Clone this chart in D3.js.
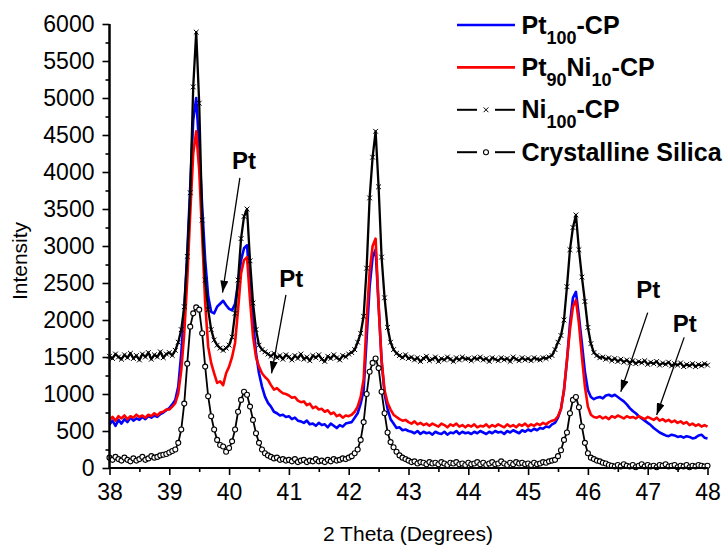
<!DOCTYPE html>
<html>
<head>
<meta charset="utf-8">
<script src="https://cdn.jsdelivr.net/npm/d3@7"></script>
<style>
  html, body { margin: 0; padding: 0; background: #fff; }
  svg { display: block; }
  text { font-family: "Liberation Sans", Arial, sans-serif; fill: #000; }
</style>
</head>
<body>
<svg id="chart" width="725" height="549"></svg>
<script>
// ---- data ----
const thetaStart = 38, thetaStep = 0.05;   // 2θ sampling grid (degrees)
const xTicks = [38, 39, 40, 41, 42, 43, 44, 45, 46, 47, 48];
const yTicks = [0, 500, 1000, 1500, 2000, 2500, 3000, 3500, 4000, 4500, 5000, 5500, 6000];

const seriesNames = ["Pt100-CP", "Pt90Ni10-CP", "Ni100-CP", "Crystalline Silica"];

const pt100 = [
 590,640,570,650,600,660,620,680,640,670, 650,690,660,700,680,710,690,730,750,780,
 810,860,920,1100,1550,2140,2900,3800,4700,5000, 4340,3530,2810,2320,2110,2090,2180,2220,2260,2200,
 2150,2130,2220,2500,2810,2970,3010,2450,2000,1550, 1280,1100,965,880,830,760,740,710,720,690,
 700,660,680,640,630,610,640,590,600,570, 610,580,590,550,600,570,540,580,560,600,
 610,620,680,740,870,1050,1750,2450,2850,2950, 2200,1450,1000,800,660,600,540,550,510,520,
 500,490,470,500,460,490,470,480,450,490, 470,460,490,450,480,470,500,460,490,470,
 480,460,490,470,500,480,460,490,470,500, 480,490,460,500,480,510,490,470,510,490,
 520,500,530,510,540,530,560,550,590,610, 680,800,1050,1450,1950,2300,2380,2050,1680,1300,
 1050,960,930,950,960,940,980,990,970,990, 960,930,900,860,810,770,740,700,670,640,
 610,580,540,510,480,460,440,430,450,440, 420,430,410,430,420,400,410,440,450,410,
 400];

const pt90ni10 = [
 650,690,640,700,670,710,660,700,680,720, 690,710,680,720,700,740,710,750,760,790,
 790,830,875,1010,1320,1820,2540,3440,4250,4550, 4030,3130,2230,1640,1420,1280,1150,1170,1120,1280,
 1370,1500,1690,2140,2630,2810,2850,2270,1780,1500, 1370,1280,1230,1190,1120,1060,1080,1040,1010,1000,
 980,950,960,910,890,900,850,870,810,830, 790,800,760,780,730,750,700,720,680,710,
 700,720,760,830,960,1200,2000,2650,3000,3100, 2200,1450,1050,880,790,720,690,660,640,650,
 620,600,630,590,610,580,600,570,600,580, 560,600,580,550,590,570,600,560,580,550,
 580,560,590,550,570,560,590,550,580,560, 590,570,550,590,560,580,550,590,570,600,
 560,590,570,600,580,610,590,620,640,650, 700,800,1050,1460,1870,2180,2270,1950,1500,1100,
 830,720,690,680,700,670,690,660,700,680, 710,690,670,700,680,690,670,700,680,660,
 690,670,650,680,640,660,630,650,620,640, 610,630,600,620,580,600,570,590,560,580,
 560];

const ni100 = [
 1510,1480,1540,1500,1470,1530,1490,1550,1480,1520, 1460,1540,1500,1560,1470,1530,1500,1570,1490,1540,
 1560,1520,1590,1700,1870,2180,2860,3720,5150,5890, 4930,3350,2540,2140,1870,1730,1660,1620,1590,1620,
 1660,1770,2090,2540,3100,3400,3500,2800,2230,1870, 1660,1600,1570,1540,1510,1550,1490,1520,1470,1530,
 1500,1460,1520,1480,1540,1470,1500,1450,1520,1490, 1530,1470,1440,1510,1480,1530,1490,1460,1520,1500,
 1540,1560,1600,1700,1820,2050,2700,3650,4200,4550, 3800,2850,2300,1900,1700,1600,1550,1520,1490,1530,
 1480,1500,1460,1490,1440,1480,1510,1450,1470,1500, 1440,1480,1460,1500,1470,1440,1490,1460,1500,1470,
 1480,1450,1490,1470,1500,1460,1480,1440,1490,1470, 1450,1490,1460,1480,1440,1500,1470,1450,1490,1460,
 1480,1450,1490,1470,1460,1490,1480,1500,1520,1600, 1700,1790,2000,2450,2950,3250,3420,2950,2580,2250,
 1900,1680,1560,1520,1490,1500,1470,1490,1450,1480, 1440,1470,1430,1460,1420,1450,1410,1440,1420,1450,
 1400,1430,1410,1440,1390,1420,1400,1430,1380,1410, 1390,1420,1370,1400,1380,1410,1370,1400,1380,1410,
 1390];

const silica = [
 140,110,150,120,100,140,110,90,130,100, 120,150,110,130,160,140,150,170,180,190,
 210,230,250,340,520,870,1410,1910,2090,2170, 2140,1820,1370,970,700,520,380,310,290,220,
 270,360,520,760,920,1030,990,830,650,470, 340,250,200,170,150,130,140,110,120,100,
 110,90,120,80,100,110,80,100,90,120, 90,100,80,110,90,120,100,110,130,120,
 140,160,200,250,380,620,1000,1300,1420,1480, 1350,1030,740,480,350,280,220,170,140,120,
 100,80,90,60,80,70,50,80,60,70, 50,80,60,40,70,60,80,50,60,40,
 70,50,60,80,50,70,40,60,80,50, 60,90,60,40,70,50,80,60,70,50,
 60,40,70,50,60,80,70,90,100,110, 160,240,380,480,740,920,960,820,560,340,
 200,140,120,100,90,70,60,40,30,20, 40,20,50,30,20,40,10,30,50,20,
 40,20,30,10,40,30,50,20,30,40, 10,30,20,40,10,30,20,40,30,20,
 30];

// annotations: label position (data units) and arrow from -> to (data units)
const annotations = [
  { text: "Pt", lx: 40.25, ly: 4040, x1: 40.18, y1: 3920, x2: 39.89, y2: 2370 },
  { text: "Pt", lx: 41.04, ly: 2450, x1: 40.95, y1: 2340, x2: 40.71, y2: 1280 },
  { text: "Pt", lx: 47.01, ly: 2300, x1: 47.00, y1: 2100, x2: 46.55, y2: 1030 },
  { text: "Pt", lx: 47.62, ly: 1840, x1: 47.61, y1: 1765, x2: 47.15, y2: 715 }
];

// ---- drawing ----
const svg = d3.select("#chart");
const x = d3.scaleLinear().domain([38, 48]).range([109.5, 707.5]);
const y = d3.scaleLinear().domain([0, 6000]).range([468, 24]);

const toPts = arr => arr.map((v, i) => [thetaStart + i * thetaStep, v]);
const line = d3.line().x(d => x(d[0])).y(d => y(d[1]));

const series = [
  { name: seriesNames[0], data: toPts(pt100), color: "#0000ff", width: 2.6, marker: null },
  { name: seriesNames[1], data: toPts(pt90ni10), color: "#ff0000", width: 2.6, marker: null },
  { name: seriesNames[2], data: toPts(ni100), color: "#000000", width: 2.3, marker: "x" },
  { name: seriesNames[3], data: toPts(silica), color: "#000000", width: 1.8, marker: "o" }
];

const plot = svg.append("g");
series.forEach(s => {
  plot.append("path").datum(s.data)
    .attr("fill", "none").attr("stroke", s.color)
    .attr("stroke-width", s.width).attr("stroke-linejoin", "round")
    .attr("d", line);
});
// markers
function drawMarker(g, type, cx, cy) {
  if (type === "x") {
    const r = 2.4;
    g.append("path")
      .attr("d", `M${cx - r},${cy - r}L${cx + r},${cy + r}M${cx - r},${cy + r}L${cx + r},${cy - r}`)
      .attr("stroke", "#000").attr("stroke-width", 1).attr("fill", "none");
  } else if (type === "o") {
    g.append("circle").attr("cx", cx).attr("cy", cy).attr("r", 2.5)
      .attr("fill", "#fff").attr("stroke", "#000").attr("stroke-width", 1.1);
  }
}
series.forEach(s => {
  if (!s.marker) return;
  const g = plot.append("g");
  s.data.forEach(d => drawMarker(g, s.marker, x(d[0]), y(d[1])));
});

// axes
const fontTick = 23;
const yAxis = d3.axisLeft(y).tickValues(yTicks).tickSize(7).tickPadding(8).tickFormat(d3.format("d"));
const yMinor = d3.axisLeft(y).tickValues(d3.range(250, 6000, 500)).tickSize(4).tickFormat("");
const xAxis = d3.axisBottom(x).tickValues(xTicks).tickSize(7).tickPadding(9).tickFormat(d3.format("d"));
const xMinor = d3.axisBottom(x).tickValues(d3.range(38.5, 48, 1)).tickSize(4).tickFormat("");

svg.append("g").attr("class", "yax").attr("transform", "translate(109.5,0)").call(yAxis);
svg.append("g").attr("class", "yax").attr("transform", "translate(109.5,0)").call(yMinor);
svg.append("g").attr("class", "xax").attr("transform", "translate(0,468)").call(xAxis);
svg.append("g").attr("class", "xax").attr("transform", "translate(0,468)").call(xMinor);
svg.selectAll(".domain").attr("stroke", "#000").attr("stroke-width", 2);
svg.selectAll(".tick line").attr("stroke", "#000").attr("stroke-width", 1.6);
svg.selectAll(".tick text").attr("font-size", fontTick)
  .attr("font-family", '"Liberation Sans", Arial, sans-serif').attr("fill", "#000");
svg.selectAll(".yax .domain").attr("d", `M0,${y(6000)}V${y(0)}`);
svg.selectAll(".xax .domain").attr("d", `M${x(38)},0H${x(48)}`);

// axis titles
svg.append("text").attr("x", 408).attr("y", 541).attr("text-anchor", "middle")
  .attr("font-size", 21).text("2 Theta (Degrees)");
svg.append("text").attr("transform", "translate(27,261) rotate(-90)").attr("text-anchor", "middle")
  .attr("font-size", 21).text("Intensity");

// legend
const legendRows = [
  { parts: [["Pt", 0], ["100", 1], ["-CP", 0]], s: series[0] },
  { parts: [["Pt", 0], ["90", 1], ["Ni", 0], ["10", 1], ["-CP", 0]], s: series[1] },
  { parts: [["Ni", 0], ["100", 1], ["-CP", 0]], s: series[2] },
  { parts: [["Crystalline Silica", 0]], s: series[3] }
];
const lg = svg.append("g");
legendRows.forEach((row, i) => {
  const ly = 25 + i * 42.4;
  const s = row.s;
  if (!s.marker) {
    lg.append("line").attr("x1", 457).attr("x2", 515).attr("y1", ly).attr("y2", ly)
      .attr("stroke", s.color).attr("stroke-width", s.width);
  } else {
    lg.append("line").attr("x1", 457).attr("x2", 477).attr("y1", ly).attr("y2", ly)
      .attr("stroke", s.color).attr("stroke-width", 2);
    lg.append("line").attr("x1", 495).attr("x2", 515).attr("y1", ly).attr("y2", ly)
      .attr("stroke", s.color).attr("stroke-width", 2);
    drawMarker(lg, s.marker, 486, ly);
  }
  const t = lg.append("text").attr("x", 521.5).attr("y", ly + 8.5)
    .attr("font-size", 25).attr("font-weight", "bold");
  let sub = false;
  row.parts.forEach(([txt, isSub]) => {
    const ts = t.append("tspan").text(txt);
    if (isSub && !sub) { ts.attr("dy", 10).attr("font-size", 18); sub = true; }
    else if (isSub && sub) { ts.attr("font-size", 18); }
    else if (!isSub && sub) { ts.attr("dy", -10); sub = false; }
  });
});

// annotations
const defs = svg.append("defs");
defs.append("marker").attr("id", "arrow").attr("viewBox", "0 0 12 8")
  .attr("refX", 12).attr("refY", 4).attr("markerWidth", 12).attr("markerHeight", 8)
  .attr("markerUnits", "userSpaceOnUse").attr("orient", "auto")
  .append("path").attr("d", "M0,0L12,4L0,8Z").attr("fill", "#000");
const ag = svg.append("g");
annotations.forEach(a => {
  ag.append("text").attr("x", x(a.lx)).attr("y", y(a.ly)).attr("text-anchor", "middle")
    .attr("font-size", 24).attr("font-weight", "bold").text(a.text);
  ag.append("line").attr("x1", x(a.x1)).attr("y1", y(a.y1)).attr("x2", x(a.x2)).attr("y2", y(a.y2))
    .attr("stroke", "#000").attr("stroke-width", 1.3).attr("marker-end", "url(#arrow)");
});
</script>
</body>
</html>
